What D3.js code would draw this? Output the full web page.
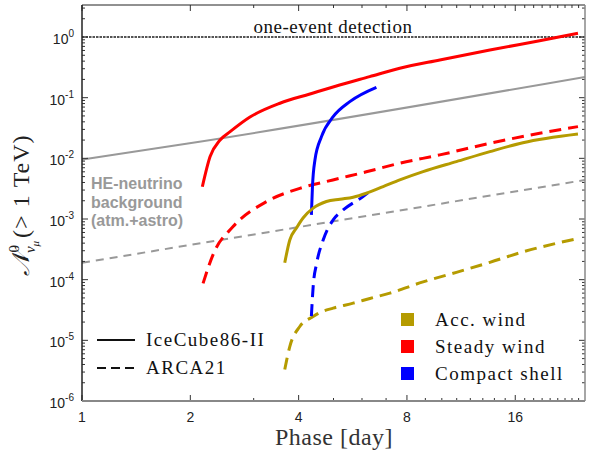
<!DOCTYPE html>
<html>
<head>
<meta charset="utf-8">
<script src="https://cdn.jsdelivr.net/npm/d3@7"></script>
<style>
  body { margin: 0; background: #fff; }
  svg { display: block; }
</style>
</head>
<body>
<div id="chart"></div>
<script>
// Series values: [day, N]
const steadyIce = [[2.16, 3.4e-3], [2.27, 0.0107], [2.42, 0.0201], [2.58, 0.0275], [2.93, 0.048], [3.55, 0.081], [4.3, 0.115], [5.2, 0.162], [6.3, 0.222], [7.64, 0.305], [9.87, 0.418], [13.6, 0.61], [18.7, 0.87], [23.9, 1.15]];
const steadyArca = [[2.17, 8.7e-5], [2.32, 2.7e-4], [2.63, 7.5e-4], [3.26, 1.94e-3], [4.03, 3.2e-3], [4.98, 4.4e-3], [6.17, 6.0e-3], [7.64, 8.3e-3], [9.87, 0.0114], [13.6, 0.0177], [18.7, 0.0259], [23.9, 0.0333]];
const shellIce = [[4.34, 1.17e-3], [4.37, 3.4e-3], [4.44, 9.4e-3], [4.63, 0.0228], [4.99, 0.0486], [5.55, 0.086], [6.58, 0.148]];
const shellArca = [[4.34, 2.5e-5], [4.39, 7.7e-5], [4.49, 1.87e-4], [4.68, 4.5e-4], [4.99, 9.7e-4], [5.32, 1.41e-3], [6.04, 2.34e-3], [6.23, 2.69e-3]];
const accIce = [[3.66, 1.9e-4], [3.78, 4.5e-4], [3.95, 7.2e-4], [4.12, 1.05e-3], [4.39, 1.51e-3], [4.78, 1.94e-3], [5.21, 2.12e-3], [5.67, 2.29e-3], [6.17, 2.66e-3], [6.87, 3.42e-3], [7.64, 4.41e-3], [8.87, 6.04e-3], [10.98, 8.83e-3], [13.6, 0.0129], [16.8, 0.0181], [23.9, 0.0252]];
const accArca = [[3.66, 3.3e-6], [3.78, 7.9e-6], [4.03, 1.69e-5], [4.39, 2.47e-5], [4.58, 2.87e-5], [4.99, 3.39e-5], [5.67, 4.1e-5], [6.31, 4.9e-5], [7.17, 6.0e-5], [8.87, 9.2e-5], [10.98, 1.32e-4], [13.6, 1.93e-4], [16.8, 2.87e-4], [24.15, 4.83e-4]];
const bgIce = [[1, 0.0095], [2.12, 0.0188], [25, 0.22]];
const bgArca = [[1, 1.9e-4], [25, 4.4e-3]];
const oneEvent = [[1, 1], [25, 1]];

const xTicks = [1, 2, 4, 8, 16];
const yTicks = [1e-6, 1e-5, 1e-4, 1e-3, 1e-2, 1e-1, 1];
const lineLegend = ['IceCube86-II', 'ARCA21'];
const modelNames = ['Acc. wind', 'Steady wind', 'Compact shell'];
const modelColors = ['#b59b00', '#ff0000', '#0000ff'];

const W = 594, H = 458;
const margin = { top: 5, right: 9, bottom: 57, left: 82 };
const width = W - margin.left - margin.right;
const height = H - margin.top - margin.bottom;

const svg = d3.select('#chart').append('svg')
    .attr('width', W)
    .attr('height', H);

const g = svg.append('g')
    .attr('transform', `translate(${margin.left},${margin.top})`);

const x = d3.scaleLog().base(2).domain([1, 25]).range([0, width]);
const y = d3.scaleLog().domain([1e-6, 3.37]).range([height, 0]);

// clip for curves
svg.append('defs').append('clipPath').attr('id', 'clip')
    .append('rect').attr('width', width).attr('height', height);

const plot = g.append('g').attr('clip-path', 'url(#clip)');

const line = d3.line()
    .x(d => x(d[0]))
    .y(d => y(d[1]))
    .curve(d3.curveMonotoneX);

function draw(data, color, w, dash) {
    plot.append('path')
        .datum(data)
        .attr('d', line)
        .attr('fill', 'none')
        .attr('stroke', color)
        .attr('stroke-width', w)
        .attr('stroke-dasharray', dash || null);
}

// background
draw(bgIce, '#999', 2);
draw(bgArca, '#999', 2, '8,6');
draw(oneEvent, '#555', 2.2, '2.5,1');

draw(accArca, modelColors[0], 3, '12,7');
draw(steadyArca, modelColors[1], 3, '12,7');
draw(shellArca, modelColors[2], 3, '12,7');
draw(steadyIce, modelColors[1], 3);
draw(shellIce, modelColors[2], 3);
draw(accIce, modelColors[0], 3);

// Minor ticks
const xMinor = d3.range(3, 25).filter(v => !xTicks.includes(v));
const yMinor = [];
yTicks.forEach(t => { for (let k = 2; k <= 9; k++) if (t * k < 3.37) yMinor.push(t * k); });

const axisColor = '#333';
const ticks = g.append('g').attr('stroke', axisColor).attr('stroke-width', 1);

xTicks.forEach(v => {
    ticks.append('line').attr('x1', x(v)).attr('x2', x(v)).attr('y1', height).attr('y2', height - 6);
    ticks.append('line').attr('x1', x(v)).attr('x2', x(v)).attr('y1', 0).attr('y2', 6);
});
xMinor.forEach(v => {
    ticks.append('line').attr('x1', x(v)).attr('x2', x(v)).attr('y1', height).attr('y2', height - 3);
    ticks.append('line').attr('x1', x(v)).attr('x2', x(v)).attr('y1', 0).attr('y2', 3);
});
yTicks.forEach(v => {
    ticks.append('line').attr('y1', y(v)).attr('y2', y(v)).attr('x1', 0).attr('x2', 6);
    ticks.append('line').attr('y1', y(v)).attr('y2', y(v)).attr('x1', width).attr('x2', width - 6);
});
yMinor.forEach(v => {
    ticks.append('line').attr('y1', y(v)).attr('y2', y(v)).attr('x1', 0).attr('x2', 3);
    ticks.append('line').attr('y1', y(v)).attr('y2', y(v)).attr('x1', width).attr('x2', width - 3);
});

// frame
g.append('line').attr('x1', 0).attr('x2', width).attr('y1', 0).attr('y2', 0).attr('stroke', '#222');
g.append('line').attr('x1', 0).attr('x2', 0).attr('y1', 0).attr('y2', height).attr('stroke', '#222').attr('stroke-width', 1.5);
g.append('line').attr('x1', width).attr('x2', width).attr('y1', 0).attr('y2', height).attr('stroke', '#888').attr('stroke-width', 1.5);
g.append('line').attr('x1', 0).attr('x2', width).attr('y1', height).attr('y2', height).attr('stroke', '#888').attr('stroke-width', 2);

// tick labels
const sans = 'Liberation Sans, Arial, sans-serif';
g.selectAll('.xlab').data(xTicks).enter().append('text')
    .attr('x', d => x(d)).attr('y', height + 21)
    .attr('text-anchor', 'middle')
    .style('font-family', sans).style('font-size', '14px').style('fill', '#222')
    .text(d => d);

const yl = g.selectAll('.ylab').data(yTicks).enter().append('text')
    .attr('x', -8).attr('y', d => y(d) + 7)
    .attr('text-anchor', 'end')
    .style('font-family', sans).style('font-size', '14px').style('fill', '#222');
yl.append('tspan').text('10');
yl.append('tspan').attr('dy', -7).style('font-size', '10px').text(d => Math.round(Math.log10(d)));

// labels
const serif = '"Liberation Serif", "Times New Roman", serif';
svg.append('text')
    .attr('x', 333).attr('y', 33)
    .attr('text-anchor', 'middle')
    .style('font-family', serif).style('font-size', '19px').style('letter-spacing', '0.5px').style('fill', '#111')
    .text('one-event detection');

svg.append('text')
    .attr('x', 334).attr('y', 445)
    .attr('text-anchor', 'middle')
    .style('font-family', serif).style('font-size', '24px').style('letter-spacing', '0.5px').style('fill', '#333')
    .text('Phase [day]');

const ylab = svg.append('text')
    .attr('transform', 'translate(29,205) rotate(-90)')
    .attr('text-anchor', 'middle')
    .style('font-family', serif).style('font-size', '24px').style('fill', '#222');
ylab.append('tspan').style('font-style', 'italic').text('𝒩');
ylab.append('tspan').attr('dy', -10).style('font-size', '15px').text('0');
ylab.append('tspan').attr('dy', 16).attr('dx', -8).style('font-size', '15px').style('font-style', 'italic').text('ν');
ylab.append('tspan').attr('dy', 4).style('font-size', '11px').style('font-style', 'italic').text('μ');
ylab.append('tspan').attr('dy', -10).attr('dx', 3).style('letter-spacing', '1px').text('(> 1 TeV)');

// background label
const bgLab = svg.append('text')
    .style('font-family', sans).style('font-size', '16px').style('font-weight', 'bold').style('fill', '#999');
['HE-neutrino', 'background', '(atm.+astro)'].forEach((t, i) => {
    bgLab.append('tspan').attr('x', 91).attr('y', 189 + i * 18.5).text(t);
});

// line style legend
lineLegend.forEach((t, i) => {
    const yy = 340 + i * 28;
    svg.append('line').attr('x1', 97).attr('x2', 135).attr('y1', yy).attr('y2', yy)
        .attr('stroke', '#111').attr('stroke-width', 2)
        .attr('stroke-dasharray', i ? '9,5' : null);
    svg.append('text').attr('x', 146).attr('y', yy + 6)
        .style('font-family', serif).style('font-size', '19px').style('letter-spacing', '1.5px').style('fill', '#111')
        .text(t);
});

// model legend
modelNames.forEach((t, i) => {
    const yy = 320 + i * 27;
    svg.append('rect').attr('x', 401).attr('y', yy - 7).attr('width', 13).attr('height', 13)
        .attr('fill', modelColors[i]);
    svg.append('text').attr('x', 435).attr('y', yy + 6)
        .style('font-family', serif).style('font-size', '19px').style('letter-spacing', '1.5px').style('fill', '#111')
        .text(t);
});
</script>
</body>
</html>
